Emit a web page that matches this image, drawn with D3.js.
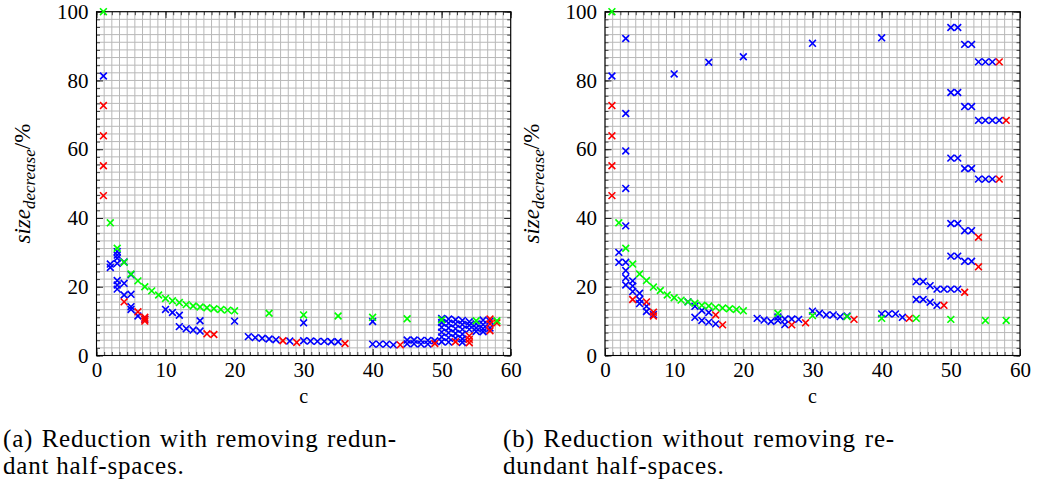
<!DOCTYPE html>
<html>
<head>
<meta charset="utf-8">
<script src="https://cdn.jsdelivr.net/npm/d3@7"></script>
<style>
  body { margin: 0; background: #fff; }
  svg { display: block; }
</style>
</head>
<body>
<svg id="chart" width="1038" height="489" font-family="Liberation Serif"></svg>
<script>
// tick values and captions
var xTicks = [0, 10, 20, 30, 40, 50, 60];
var yTicks = [0, 20, 40, 60, 80, 100];
var captionA = ["(a) Reduction with removing redun-", "dant half-spaces."];
var captionB = ["(b) Reduction without removing re-", "dundant half-spaces."];

// (a) with removing redundant half-spaces   [c, size_decrease %]
var leftGreen = [[1,100],[2,38.6],[3,31.2],[4,27.1],[5,23.7],[6,21.7],[7,20.0],[8,18.8],[9,17.6],
  [10,16.6],[11,15.9],[12,15.4],[13,14.8],[14,14.4],[15,14.1],[16,13.9],[17,13.6],[18,13.4],
  [19,13.2],[20,13.0],[25,12.3],[30,11.8],[35,11.5],[40,11.1],[45,10.7],[50,10.4],[55,10.1],[58,10.1]];
var leftRed = [[1,72.7],[1,63.9],[1,55.2],[1,46.5],[4,15.6],[6,12.7],[7,11.1],[7,10.5],[7,10.0],
  [16,6.3],[17,6.1],[27,4.3],[29,3.8],[36,3.5],[44,3.1],[49,3.5],[52,4.0],[54,5.7],[54,4.7],
  [54,3.7],[57,10.6],[57,9.2],[57,7.2],[58,9.5]];
var leftBlue = [[1,81.3],[2,26.6],[2,25.6],[3,30.2],[3,29.2],[3,28.3],[3,26.8],[3,21.8],[3,20.5],
  [3,19.3],[4,27.2],[4,21.0],[4,17.6],[5,23.5],[5,17.8],[5,14.2],[5,13.4],[6,11.5],[7,10.6],
  [10,13.4],[11,12.5],[12,11.7],[12,8.4],[13,7.8],[14,7.4],[15,7.1],[15,10.1],[20,10.0],
  [22,5.5],[23,5.2],[24,5.0],[25,4.8],[26,4.6],[28,4.2],[30,4.3],[30,9.5],[31,4.2],[32,4.1],
  [33,4.1],[34,4.0],[35,4.0],[40,3.3],[40,9.9],[41,3.3],[42,3.3],[43,3.1],
  [45,4.5],[45,3.4],[46,4.5],[46,3.4],[47,4.4],[47,3.3],[48,4.4],[48,3.3],[49,4.3],
  [50,10.8],[50,9.6],[50,8.2],[50,6.8],[50,5.4],[50,4.0],
  [51,10.6],[51,9.4],[51,8.0],[51,6.6],[51,5.2],[51,3.9],
  [52,10.4],[52,9.2],[52,7.8],[52,6.4],[52,5.0],
  [53,10.2],[53,9.0],[53,7.6],[53,6.2],[53,4.8],[53,3.8],
  [54,9.8],[54,8.8],[54,7.6],
  [55,9.2],[55,8.0],[55,7.0],
  [56,10.3],[56,9.0],[56,7.8],[56,6.9],
  [57,10.0],[57,8.0]];

// (b) without removing redundant half-spaces
var rightGreen = [[1,100],[2,38.6],[3,31.2],[4,26.6],[5,23.7],[6,21.8],[7,19.9],[8,18.9],[9,17.6],
  [10,16.8],[11,16.1],[12,15.6],[13,15.2],[14,14.6],[15,14.4],[16,14.0],[17,13.8],[18,13.6],
  [19,13.4],[20,13.0],[25,12.3],[30,11.6],[35,11.3],[40,10.8],[45,10.8],[50,10.5],[55,10.2],[58,10.2]];
var rightRed = [[1,72.7],[1,63.9],[1,55.2],[1,46.5],[4,16.3],[6,15.6],[7,12.6],[7,11.5],[16,11.8],
  [17,8.9],[27,8.9],[29,9.5],[36,10.5],[44,10.8],[49,14.6],[52,18.4],[54,34.4],[54,25.8],
  [57,85.4],[58,68.4],[57,51.3]];
var rightBlue = [[1,81.3],[2,30.0],[2,27.1],[3,92.2],[3,70.4],[3,59.5],[3,48.6],[3,37.7],[3,27.1],
  [3,24.7],[3,22.6],[3,20.5],[4,21.7],[4,20.2],[4,18.6],[5,18.1],[5,16.3],[5,15.1],[6,14.3],
  [6,12.8],[7,11.9],[10,81.9],[12,15.6],[13,14.3],[14,13.1],[15,12.5],[13,11.1],[14,10.2],
  [15,9.7],[16,9.2],[15,85.3],[20,86.9],[22,10.8],[23,10.3],[24,9.9],[25,10.2],[25,11.2],
  [26,10.6],[26,9.0],[27,10.6],[28,10.5],[30,12.9],[30,90.8],[31,12.3],[32,11.8],[33,11.8],
  [34,11.3],[35,11.5],[40,12.1],[41,12.1],[42,12.1],[43,11.1],[40,92.4],
  [45,21.5],[46,21.5],[47,20.3],[48,19.3],[49,19.3],[50,19.3],[51,19.3],
  [45,16.3],[46,16.3],[47,15.5],[48,14.6],
  [50,38.4],[51,38.4],[52,36.3],[53,36.3],[50,28.9],[51,28.9],[52,27.4],[53,27.4],
  [50,95.4],[51,95.4],[52,90.5],[53,90.5],[54,85.4],[55,85.4],[56,85.4],
  [50,76.5],[51,76.5],[52,72.4],[53,72.4],[54,68.4],[55,68.4],[56,68.4],[57,68.4],
  [50,57.4],[51,57.4],[52,54.4],[53,54.4],[54,51.3],[55,51.3],[56,51.3]];

var svg = d3.select("#chart");
var yTop = 11.7, yBottom = 355.5;
var serif = "Liberation Serif";

var panels = [
  {x0: 96.5, x1: 510.7, blue: leftBlue, red: leftRed, green: leftGreen, caption: captionA, capX: 3, capW: 394},
  {x0: 605, x1: 1020, blue: rightBlue, red: rightRed, green: rightGreen, caption: captionB, capX: 503, capW: 392}
];

var cross = "M-3.4,-3.4L3.4,3.4M-3.4,3.4L3.4,-3.4";

panels.forEach(function(p) {
  var x = d3.scaleLinear().domain([0, 60]).range([p.x0, p.x1]);
  var y = d3.scaleLinear().domain([0, 100]).range([yBottom, yTop]);
  var g = svg.append("g");

  // 8 minor ticks between each pair of majors
  var xMinor = d3.range(0, 55).map(function(i) { return i * 10 / 9; }).filter(function(v) { return v <= 60.001; });
  var yMinor = d3.range(0, 46).map(function(i) { return i * 20 / 9; }).filter(function(v) { return v <= 100.001; });

  // grid
  g.append("g").selectAll("line").data(xMinor).enter().append("line")
    .attr("x1", function(d) { return x(d); }).attr("x2", function(d) { return x(d); })
    .attr("y1", yTop).attr("y2", yBottom)
    .attr("stroke", "#b8b8b8").attr("stroke-width", 1);
  g.append("g").selectAll("line").data(yMinor).enter().append("line")
    .attr("y1", function(d) { return y(d); }).attr("y2", function(d) { return y(d); })
    .attr("x1", p.x0).attr("x2", p.x1)
    .attr("stroke", "#b8b8b8").attr("stroke-width", 1);

  // ticks on all four sides, pointing in
  function minorAxis(ax) { return ax.tickFormat("").tickSizeInner(-3.5).tickSizeOuter(0); }
  function majorAxis(ax) { return ax.tickSizeInner(-6.5).tickSizeOuter(0).tickPadding(7); }

  [[d3.axisBottom(x), "translate(0," + yBottom + ")", xMinor], [d3.axisTop(x), "translate(0," + yTop + ")", xMinor],
   [d3.axisLeft(y), "translate(" + p.x0 + ",0)", yMinor], [d3.axisRight(y), "translate(" + p.x1 + ",0)", yMinor]]
  .forEach(function(a) {
    g.append("g").attr("transform", a[1]).call(minorAxis(a[0].tickValues(a[2])))
      .call(function(s) { s.select(".domain").remove(); s.selectAll("line").attr("stroke", "#444"); });
  });

  var bx = g.append("g").attr("transform", "translate(0," + yBottom + ")")
    .call(majorAxis(d3.axisBottom(x).tickValues(xTicks)));
  var tx = g.append("g").attr("transform", "translate(0," + yTop + ")")
    .call(majorAxis(d3.axisTop(x).tickValues(xTicks)).tickFormat(""));
  var ly = g.append("g").attr("transform", "translate(" + p.x0 + ",0)")
    .call(majorAxis(d3.axisLeft(y).tickValues(yTicks)).tickPadding(8));
  var ry = g.append("g").attr("transform", "translate(" + p.x1 + ",0)")
    .call(majorAxis(d3.axisRight(y).tickValues(yTicks)).tickFormat(""));
  [bx, tx, ly, ry].forEach(function(s) {
    s.attr("font-family", serif).attr("font-size", 21);
    s.select(".domain").remove();
    s.selectAll("line").attr("stroke", "#222");
    s.selectAll("text").attr("font-family", serif).attr("fill", "#000");
  });

  g.append("rect").attr("x", p.x0).attr("y", yTop)
    .attr("width", p.x1 - p.x0).attr("height", yBottom - yTop)
    .attr("fill", "none").attr("stroke", "#000").attr("stroke-width", 1.1);

  // markers
  [[p.blue, "#0000ff"], [p.red, "#ff0000"], [p.green, "#00ff00"]].forEach(function(s) {
    g.append("g").selectAll("path").data(s[0]).enter().append("path")
      .attr("d", cross)
      .attr("transform", function(d) { return "translate(" + x(d[0]) + "," + y(d[1]) + ")"; })
      .attr("stroke", s[1]).attr("stroke-width", 1.6).attr("fill", "none");
  });

  // axis labels
  g.append("text").attr("x", (p.x0 + p.x1) / 2).attr("y", 403)
    .attr("font-family", serif).attr("text-anchor", "middle").attr("font-size", 20).text("c");

  var yl = g.append("text")
    .attr("transform", "translate(" + (p.x0 - 66.5) + "," + ((yTop + yBottom) / 2) + ") rotate(-90)")
    .attr("font-family", serif).attr("text-anchor", "middle").attr("font-size", 23);
  yl.append("tspan").attr("font-style", "italic").text("size");
  yl.append("tspan").attr("font-style", "italic").attr("font-size", 17).attr("dy", 5).text("decrease");
  yl.append("tspan").attr("dy", -5).text("/%");

  // caption, first line justified by widening the word spaces
  var c1 = g.append("text").attr("x", p.capX).attr("y", 447)
    .attr("font-family", serif).attr("font-size", 25).attr("letter-spacing", 0.8).text(p.caption[0]);
  var spaces = p.caption[0].split(" ").length - 1;
  var extra = p.capW - c1.node().getComputedTextLength();
  if (extra > 0) c1.attr("word-spacing", extra / spaces);
  g.append("text").attr("x", p.capX).attr("y", 474)
    .attr("font-family", serif).attr("font-size", 25).attr("letter-spacing", 0.8).text(p.caption[1]);
});
</script>
</body>
</html>
